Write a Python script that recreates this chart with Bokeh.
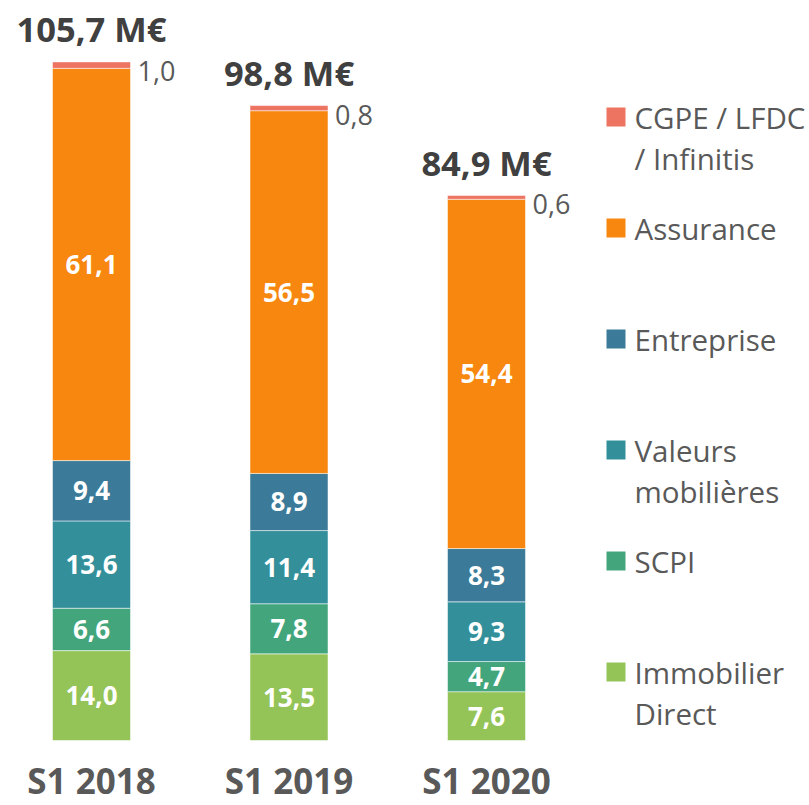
from bokeh.plotting import figure
from bokeh.models import Range1d, ColumnDataSource
from bokeh.embed import file_html
from bokeh.resources import INLINE
from bokeh.core.properties import value

# ---- data ----
categories = ["S1 2018", "S1 2019", "S1 2020"]
immobilier_direct = [14.0, 13.5, 7.6]
scpi = [6.6, 7.8, 4.7]
valeurs_mobilieres = [13.6, 11.4, 9.3]
entreprise = [9.4, 8.9, 8.3]
assurance = [61.1, 56.5, 54.4]
cgpe = [1.0, 0.8, 0.6]
totals = [105.7, 98.8, 84.9]

series_keys = ["immo", "scpi", "valeurs", "entreprise", "assurance", "cgpe"]
series_values = [immobilier_direct, scpi, valeurs_mobilieres, entreprise, assurance, cgpe]
series_colors = ["#94C457", "#42A57C", "#33909B", "#3B7A98", "#F7870F", "#EE7462"]
legend_lines = {
    "cgpe": ["CGPE / LFDC", "/  Infinitis"],
    "assurance": ["Assurance"],
    "entreprise": ["Entreprise"],
    "valeurs": ["Valeurs", "mobilières"],
    "scpi": ["SCPI"],
    "immo": ["Immobilier", "Direct"],
}
legend_order = ["cgpe", "assurance", "entreprise", "valeurs", "scpi", "immo"]

# ---- layout ----
W, H = 809, 805
PX_Y = 6.42          # pixels per unit (M€)
BASE_PX = 65         # px from canvas bottom to value 0
PX_X = 197.5         # px per category
FIRST_PX = 91        # canvas x of first bar centre
BAR_W_PX = 78
FONT = "Open Sans"


def dx(px):
    return (px - FIRST_PX) / PX_X


def dy(py_from_top):
    return (H - BASE_PX - py_from_top) / PX_Y


p = figure(width=W, height=H, output_backend="svg", toolbar_location=None,
           x_range=Range1d(dx(0), dx(W)), y_range=Range1d(dy(H), dy(0)),
           x_axis_location=None, y_axis_location=None, min_border=0)
p.grid.visible = False
p.outline_line_color = None
p.background_fill_color = "white"
p.border_fill_color = "white"

xs = list(range(len(categories)))
data = {"x": xs, "cat": categories}
for k, v in zip(series_keys, series_values):
    data[k] = v
src = ColumnDataSource(data)

bar_w = BAR_W_PX / PX_X
p.vbar_stack(series_keys, x="x", width=bar_w, fill_color=series_colors,
             line_color="white", line_width=1, line_alpha=0.5, source=src)

# segment labels (inside)
lx, ly, lt = [], [], []
for i in xs:
    cum = 0.0
    for k, v in zip(series_keys[:-1], series_values[:-1]):
        lx.append(i)
        ly.append(cum + v[i] / 2)
        lt.append(f"{v[i]:.1f}".replace(".", ","))
        cum += v[i]
p.text(x=lx, y=ly, text=lt, text_align="center", text_baseline="middle",
       text_font=value(FONT), text_font_style="bold", text_font_size="26px",
       text_color="white")

# stack tops
tops = [sum(v[i] for v in series_values) for i in xs]

# small CGPE labels
p.text(x=[i + bar_w / 2 for i in xs], y=tops,
       text=[f"{c:.1f}".replace(".", ",") for c in cgpe],
       x_offset=7, y_offset=9, text_align="left", text_baseline="middle",
       text_font=value(FONT), text_font_size="27px", text_color="#595959")

# totals
p.text(x=xs, y=tops, text=[f"{t:.1f} M€".replace(".", ",") for t in totals],
       y_offset=-33, text_align="center", text_baseline="middle",
       text_font=value(FONT), text_font_style="bold", text_font_size="34.5px",
       text_color="#404040")

# category labels
p.text(x=xs, y=[0] * len(xs), text=categories, y_offset=40,
       text_align="center", text_baseline="middle",
       text_font=value(FONT), text_font_style="bold", text_font_size="35px",
       text_color="#595959")

# manual legend
SQ_X_PX = 615.5
TXT_X_PX = 634
TOP_Y_PX = 116.5
STEP_PX = 111
LINE_PX = 41.5
color_of = dict(zip(series_keys, series_colors))
sq_x, sq_y, sq_c = [], [], []
tx, ty, tt = [], [], []
for j, k in enumerate(legend_order):
    cy = TOP_Y_PX + STEP_PX * j
    sq_x.append(dx(SQ_X_PX))
    sq_y.append(dy(cy))
    sq_c.append(color_of[k])
    for n, line in enumerate(legend_lines[k]):
        tx.append(dx(TXT_X_PX))
        ty.append(dy(cy + n * LINE_PX))
        tt.append(line)
p.scatter(x=sq_x, y=sq_y, marker="square", size=19, fill_color=sq_c, line_color=None)
p.text(x=tx, y=ty, text=tt, text_align="left", text_baseline="middle",
       text_font=value(FONT), text_font_size="29.5px", text_color="#595959")

open("out.html", "w").write(file_html(p, INLINE))
